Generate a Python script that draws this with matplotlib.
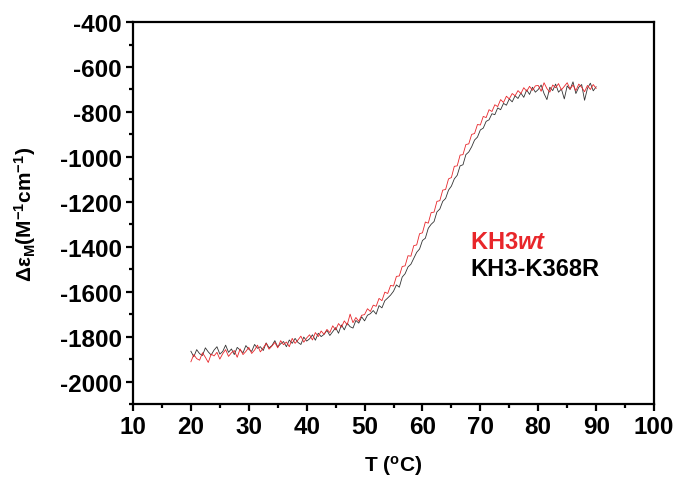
import numpy as np
import matplotlib
matplotlib.use("Agg")
import matplotlib.pyplot as plt
from matplotlib.ticker import MultipleLocator

plt.rcParams['font.family'] = ['Liberation Sans', 'DejaVu Sans']
plt.rcParams['font.weight'] = 'bold'
plt.rcParams['axes.unicode_minus'] = False
plt.rcParams['mathtext.fontset'] = 'custom'
plt.rcParams['mathtext.rm'] = 'Liberation Sans:bold'
plt.rcParams['mathtext.it'] = 'Liberation Sans:italic:bold'
plt.rcParams['mathtext.default'] = 'rm'

# temperature grid (deg C), 0.5 step
T = np.arange(20.0, 90.01, 0.5)

# KH3-K368R (black)
mut = [
    -1865, -1890, -1858, -1876, -1884, -1850, -1868, -1882, -1860, -1845,
    -1878, -1866, -1838, -1870, -1855, -1880, -1848, -1860, -1872, -1840,
    -1856, -1866, -1835, -1852, -1845, -1862, -1828, -1850, -1840, -1818,
    -1846, -1832, -1822, -1845, -1815, -1830, -1808, -1826, -1835, -1802,
    -1820, -1810, -1792, -1816, -1785, -1800, -1790, -1772, -1795, -1778,
    -1760, -1785, -1748, -1770, -1740, -1756, -1762, -1728, -1740, -1712,
    -1730, -1705, -1698, -1684, -1700, -1662, -1672, -1640, -1628, -1615,
    -1598, -1570, -1580, -1535, -1520, -1490, -1478, -1452, -1425, -1410,
    -1372, -1362, -1318, -1300, -1288, -1245, -1232, -1198, -1185, -1148,
    -1130, -1098, -1082, -1040, -1035, -990, -978, -955, -925, -912,
    -880, -872, -842, -835, -808, -812, -782, -790, -762, -770,
    -742, -755, -728, -740, -716, -735, -702, -722, -690, -712,
    -700, -680, -718, -745, -690, -705, -676, -712, -698, -742,
    -684, -700, -666, -718, -690, -678, -748, -695, -672, -706,
    -688,
]

# KH3wt (red)
wt = [
    -1912, -1880, -1898, -1905, -1872, -1892, -1915, -1878, -1886, -1870,
    -1900, -1876, -1858, -1888, -1872, -1862, -1892, -1855, -1880, -1866,
    -1848, -1875, -1860, -1838, -1868, -1850, -1830, -1856, -1842, -1826,
    -1850, -1818, -1836, -1824, -1845, -1808, -1830, -1815, -1798, -1825,
    -1806, -1792, -1815, -1782, -1800, -1775, -1790, -1768, -1782, -1752,
    -1770, -1742, -1758, -1730, -1748, -1700, -1738, -1715, -1732, -1705,
    -1702, -1676, -1688, -1660, -1665, -1630, -1640, -1602, -1608, -1572,
    -1575, -1532, -1530, -1488, -1485, -1440, -1442, -1395, -1392, -1342,
    -1338, -1290, -1295, -1248, -1246, -1198, -1195, -1148, -1145, -1098,
    -1092, -1042, -1040, -992, -990, -945, -942, -900, -896, -856,
    -858, -820, -825, -790, -798, -768, -776, -745, -758, -730,
    -742, -718, -728, -705, -718, -692, -708, -686, -704, -684,
    -682, -708, -670, -696, -712, -680, -692, -674, -702, -686,
    -670, -698, -680, -705, -676, -690, -710, -682, -700, -678,
    -695,
]

fig = plt.figure(figsize=(6.81, 4.81), dpi=100)
ax = fig.add_axes([0.1953, 0.158, 0.7651, 0.794])

ax.plot(T, mut, color='#333333', lw=0.6)
ax.plot(T, wt, color='#e8262a', lw=0.6)

ax.set_xlim(10, 100)
ax.set_ylim(-2100, -400)
ax.xaxis.set_major_locator(MultipleLocator(10))
ax.xaxis.set_minor_locator(MultipleLocator(5))
ax.yaxis.set_minor_locator(MultipleLocator(100))
ax.set_yticks(np.arange(-2000, -399, 200))

for s in ax.spines.values():
    s.set_linewidth(1.6)
ax.tick_params(which='major', direction='out', length=5, width=1.6,
               labelsize=17.5, pad=3)
ax.tick_params(which='minor', direction='out', length=3, width=1.6)

ax.set_xlabel(r'T ($^o$C)', fontsize=15, fontweight='bold', labelpad=11)
ax.set_ylabel(r'$\Delta\varepsilon_M$(M$^{-1}$cm$^{-1}$)', fontsize=15,
              fontweight='bold', labelpad=16)

ax.text(68.2, -1378, r'KH3$\mathit{wt}$', color='#e8262a', fontsize=17,
        va='center', ha='left')
ax.text(68.2, -1498, 'KH3-K368R', color='black', fontsize=17,
        va='center', ha='left')

fig.savefig('out.png', dpi=100)
